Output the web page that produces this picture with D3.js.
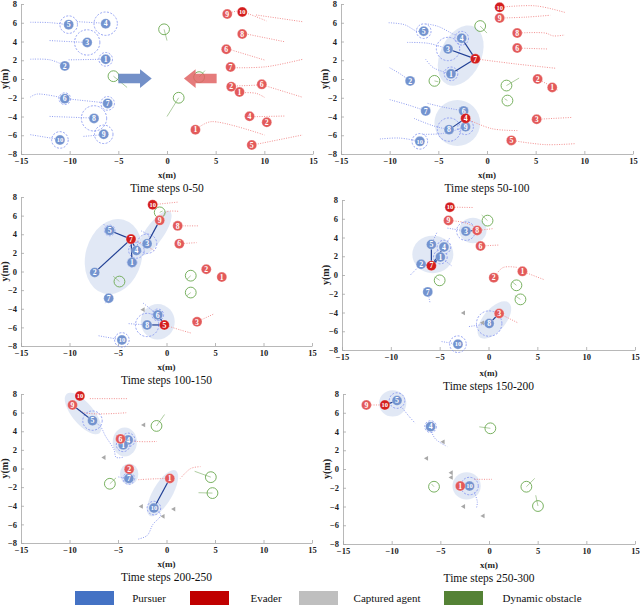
<!DOCTYPE html>
<html>
<head>
<meta charset="utf-8">
<script src="https://cdn.jsdelivr.net/npm/d3@7"></script>
<style>
  body { margin: 0; background: #fff; }
  svg { display: block; }
</style>
</head>
<body>
<div id="chart"></div>
<script>
// ---- data (x, y in metres) ----
const titles = ['Time steps 0-50', 'Time steps 50-100', 'Time steps 100-150',
                'Time steps 150-200', 'Time steps 200-250', 'Time steps 250-300'];
const xTicks = [-15, -10, -5, 0, 5, 10, 15];
const yTicks = [-8, -6, -4, -2, 0, 2, 4, 6, 8];

// pursuers per panel: [id, x, y, detection radius (0 = none)]
const pursuers = [
  [[1,-6.3,2.1,0.7],[2,-10.5,1.4,0],[3,-8.2,3.9,1.3],[4,-6.3,5.9,1.2],[5,-10.1,5.8,0.9],
   [6,-10.5,-2.1,0.6],[7,-6.1,-2.6,0.7],[8,-7.5,-4.2,1.3],[9,-6.5,-5.9,0.95],[10,-11.0,-6.5,0.85]],
  [[5,-6.5,5.1,0.75],[4,-2.6,4.35,0.7],[3,-4.0,3.2,1.2],[1,-3.7,0.55,0.7],[2,-7.9,-0.2,0],
   [7,-6.3,-3.4,0],[6,-2.4,-3.4,0],[8,-3.9,-5.4,1.2],[9,-2.2,-5.1,0.8],[10,-6.9,-6.65,0.8]],
  [[5,-5.86,4.41,0.55],[4,-3.1,2.26,0.8],[3,-2.0,2.98,1.0],[1,-3.55,0.97,0.5],[2,-7.4,-0.1,0],
   [7,-5.96,-2.87,0],[6,-0.9,-4.66,0.6],[8,-2.0,-5.74,1.2],[10,-4.6,-7.35,0.75]],
  [[3,-2.31,4.68,0.95],[5,-5.85,3.26,0],[4,-4.56,2.98,0.7],[1,-4.93,1.92,0.7],[2,-6.9,1.14,0],
   [7,-6.22,-1.8,0],[8,0.07,-5.18,1.3],[10,-3.13,-7.38,0.85]],
  [[5,-7.63,5.14,1.0],[4,-3.95,3.07,0.7],[1,-4.47,2.54,0.7],[7,-3.88,-1.07,0.6],[10,-1.3,-4.25,0.7]],
  [[5,-9.45,7.3,0.8],[4,-6.0,4.52,0.6],[10,-2.0,-1.82,0.9]]
];

// evaders per panel: [id, x, y, targeted (darker)]
const evaders = [
  [[9,6.19,6.93,0],[10,7.73,7.15,1],[8,7.73,4.8,0],[6,6.09,3.17,0],[7,6.53,1.28,0],[2,6.6,-0.82,0],
   [1,7.45,-1.39,0],[6,9.74,-0.57,0],[4,8.48,-3.98,0],[2,10.25,-4.62,0],[1,2.92,-5.41,0],[5,8.71,-7.04,0]],
  [[10,1.3,7.65,1],[9,1.3,6.5,0],[8,3.1,4.9,0],[6,3.1,3.3,0],[7,-1.2,2.15,1],[2,5.2,0.0,0],
   [1,6.7,-0.9,0],[3,5.1,-4.3,0],[4,-2.2,-4.2,1],[5,2.5,-6.55,0]],
  [[10,-1.43,7.17,1],[9,-0.7,5.49,0],[8,1.15,4.9,0],[6,1.32,2.98,0],[7,-3.66,3.48,1],[2,4.1,0.25,0],
   [1,5.7,-0.6,0],[3,3.15,-5.4,0],[5,-0.22,-5.74,1]],
  [[10,-3.95,7.24,1],[9,-4.1,5.82,0],[8,-1.16,4.75,0],[6,-0.82,3.09,0],[7,-5.85,0.99,1],
   [2,0.54,-0.28,0],[1,3.47,0.39,0],[3,1.09,-4.11,0]],
  [[10,-8.93,7.79,1],[9,-9.69,6.82,0],[6,-4.74,3.18,0],[2,-3.85,-0.07,0],[1,0.34,-1.07,0]],
  [[9,-12.6,6.83,0],[10,-10.7,6.83,1],[1,-2.95,-1.82,0]]
];

// capture links per panel: [pursuer id, evader id]
const links = [
  [],
  [[4,7],[3,7],[1,7],[8,4]],
  [[5,7],[2,7],[1,7],[4,7],[3,9],[6,5],[8,5]],
  [[5,7],[4,7],[1,7],[2,7],[3,8],[8,3]],
  [[5,9],[10,1]],
  [[5,10],[10,1]]
];

// coalition regions per panel: [cx, cy, rx, ry, angle deg]
const groups = [
  [],
  [[-2.7,2.5,2.1,3.4,25],[-3.05,-4.7,2.35,2.45,0]],
  [[-5.45,1.6,2.9,4.1,15],[-1.25,4.1,0.95,2.9,35],[-0.9,-5.4,1.75,1.9,0]],
  [[-5.7,2.2,2.1,2.0,0],[-1.6,4.75,1.4,1.35,0],[0.6,-4.8,1.15,2.4,40]],
  [[-8.6,5.9,1.1,2.75,-40],[-4.3,2.85,1.25,1.55,0],[-3.85,-0.6,0.95,1.15,0],[-0.4,-2.65,1.0,2.8,30]],
  [[-9.9,7.0,1.4,1.4,0],[-2.3,-1.8,1.45,1.45,0]]
];

// dynamic obstacles per panel: [x, y, tail x, tail y]
const obstacles = [
  [[-0.3,5.3,0.0,4.1],[-5.5,0.3,-4.1,-0.9],[1.2,-2.0,0.0,-4.0],[3.3,0.2,3.9,0.9]],
  [[-0.7,5.65,0.0,4.9],[-5.4,-0.2,-5.0,-0.3],[2.0,-0.7,3.3,0.1],[2.1,-2.3,1.8,-2.1]],
  [[-0.7,6.35,-0.4,6.5],[-4.85,-1.08,-5.5,-0.5],[2.5,-0.45,2.1,-0.85],[2.5,-2.26,2.1,-2.6]],
  [[-0.1,5.8,-0.7,6.4],[-5.0,-0.57,-5.5,-0.2],[2.86,-1.1,2.4,-0.7],[3.27,-2.6,2.7,-2.2]],
  [[-1.03,4.57,-0.2,5.8],[-5.84,-1.64,-5.2,-1.0],[4.57,-0.93,2.9,-0.3],[4.74,-2.64,3.3,-2.6]],
  [[0.14,4.34,-1.0,4.5],[-5.65,-1.89,-5.9,-1.6],[3.84,-1.89,4.7,-1.0],[5.03,-3.95,4.8,-2.8]]
];

// captured agents per panel: [x, y]
const captured = [
  [],
  [],
  [[-2.4,-4.1]],
  [[-2.55,-4.04],[-0.6,-5.1]],
  [[-2.34,4.68],[-6.43,1.18],[-2.58,-4.07],[0.76,-4.36],[-0.34,-5.14]],
  [[-4.7,2.9],[-6.4,1.14],[-3.87,-0.4],[-3.87,-0.9],[-2.6,-4.0],[-0.6,-5.0]]
];

// trajectories per panel
const pursuerTrails = [
  [[[-14.04,6.05],[-12.0,6.01],[-10.11,5.77]], [[-9.26,6.12],[-6.32,5.94]],
   [[-12.06,4.1],[-8.17,3.89]], [[-14.04,2.11],[-12.0,2.04],[-10.46,1.4]],
   [[-10.11,2.04],[-6.32,2.11]], [[-14.04,-1.93],[-13.36,-1.61],[-10.46,-2.07]],
   [[-9.94,-2.15],[-6.12,-2.57]], [[-12.06,-3.99],[-7.48,-4.17]],
   [[-8.58,-6.12],[-6.53,-5.94]], [[-14.04,-5.94],[-10.97,-6.47]]],
  [[[-10.1,6.0],[-8.5,5.8],[-7.2,5.1],[-6.5,5.1]], [[-6.3,5.9],[-5.0,5.6],[-3.5,4.8],[-2.6,4.35]],
   [[-8.2,3.9],[-6.0,3.8],[-4.0,3.2]], [[-6.3,2.1],[-5.5,1.2],[-3.7,0.55]],
   [[-10.0,1.2],[-9.0,0.6],[-7.9,-0.2]], [[-10.0,-2.2],[-8.0,-2.8],[-6.3,-3.4]],
   [[-6.1,-2.6],[-4.5,-3.0],[-2.4,-3.4]], [[-7.5,-4.2],[-5.5,-5.0],[-3.9,-5.4]],
   [[-6.5,-5.9],[-4.5,-5.8],[-2.2,-5.1]], [[-11.0,-6.4],[-9.0,-6.3],[-6.9,-6.65]]],
  [[[-7.0,-6.9],[-4.6,-7.35]], [[-3.9,-5.6],[-2.0,-5.74]], [[-7.9,-0.2],[-7.4,-0.1]],
   [[-6.3,-3.4],[-5.96,-2.87]], [[-2.6,4.35],[-1.8,3.8],[-2.0,2.98]], [[-2.4,-3.4],[-0.9,-4.66]],
   [[-6.5,5.1],[-5.86,4.41]], [[-3.7,0.55],[-3.55,0.97]]],
  [[[-4.8,-7.1],[-3.13,-7.38]], [[-2.0,-5.5],[0.07,-5.18]], [[-5.3,4.5],[-5.85,3.26]],
   [[-4.0,3.9],[-4.56,2.98]], [[-4.2,5.0],[-2.31,4.68]], [[-3.8,1.0],[-4.93,1.92]],
   [[-6.0,-2.9],[-6.22,-1.8]], [[-8.0,0.0],[-6.9,1.14]]],
  [[[-7.63,5.14],[-6.8,4.5],[-6.3,3.5],[-5.4,2.0],[-5.2,1.2],[-4.5,1.2]],
   [[-1.3,-4.25],[-0.6,-5.0],[-1.4,-6.0],[-2.0,-7.2],[-3.0,-7.6]], [[-3.88,-1.07],[-5.0,-0.9]]],
  [[[-8.9,6.5],[-8.2,5.6],[-7.6,4.9]], [[-6.0,4.2],[-5.5,3.2],[-4.3,2.4]],
   [[-1.5,-2.5],[-1.2,-3.5],[-1.3,-4.2]]]
];
const evaderTrails = [
  [[[6.19,6.93],[7.3,7.25],[8.5,6.9],[10.2,6.2]], [[9.15,6.83],[13.93,6.11]],
   [[8.3,4.77],[12.06,3.98]], [[6.6,3.1],[10.0,2.03]], [[6.94,1.2],[10.19,1.31],[13.93,2.1]],
   [[6.94,-0.75],[9.67,-0.64]], [[7.79,-1.46],[9.16,-1.53],[10.0,-1.95]],
   [[10.19,-0.75],[13.93,-1.95]], [[8.99,-4.02],[12.06,-3.95]],
   [[3.36,-5.09],[4.56,-4.55],[10.0,-5.97]], [[9.33,-6.93],[13.93,-5.97]]],
  [[[1.3,7.65],[5.0,7.8],[8.0,7.1]], [[1.3,6.5],[4.0,6.6],[6.5,6.8]],
   [[3.1,4.9],[6.0,4.9],[6.8,4.6],[8.0,4.7]], [[3.1,3.3],[6.3,3.2]],
   [[-1.2,2.15],[3.0,1.6],[7.0,1.15]], [[6.7,-0.9],[7.3,-1.2]], [[5.2,0.0],[6.3,-0.6]],
   [[5.1,-4.3],[8.7,-4.1]], [[-2.2,-4.2],[0.5,-5.3],[3.2,-5.5]], [[2.5,-6.55],[6.0,-7.0],[9.0,-6.9]]],
  [[[-1.43,7.17],[1.25,7.46]], [[-0.7,5.49],[0.0,6.4],[1.3,6.45]], [[1.15,4.9],[3.3,4.9]],
   [[1.32,2.98],[3.1,3.1]], [[-3.66,3.48],[-2.5,3.0],[-1.2,2.2]], [[3.15,-5.4],[4.9,-4.55]],
   [[-0.22,-5.74],[1.5,-6.3],[2.5,-6.6]]],
  [[[-3.95,7.24],[-1.6,7.2]], [[-4.1,5.82],[-2.5,5.6],[-1.1,5.0]], [[-1.16,4.75],[0.5,4.95]],
   [[-0.82,3.09],[1.1,3.2]], [[3.47,0.39],[5.7,-0.5]], [[0.54,-0.28],[1.5,0.8],[3.0,0.8]],
   [[1.09,-4.11],[3.0,-5.1]]],
  [[[-7.9,7.5],[-4.0,7.5]], [[-9.69,6.82],[-8.5,6.0],[-4.0,6.0]], [[-4.74,3.18],[-3.0,2.9],[-1.0,2.9]],
   [[-2.9,-1.2],[-1.0,-1.1],[0.34,-1.07]], [[1.4,-1.1],[2.5,0.0],[3.5,0.2]]],
  [[[-12.6,6.83],[-10.7,6.83]], [[-1.5,-1.1],[0.3,-1.1]]]
];

// motion arrows in the first panel: [x from, x to, y]
const arrowsX = [[-5.0, -1.57], [5.1, 1.74]];
const arrowY = 0.05;

const legendLabels = ['Pursuer', 'Evader', 'Captured agent', 'Dynamic obstacle'];
const legendColors = ['#4472c4', '#c00000', '#bfbfbf', '#548235'];

// ---- layout ----
const W = 640, H = 606;
const boxes = [
  {x0: 21, x1: 313, y0: 4, y1: 154},
  {x0: 341, x1: 633, y0: 4, y1: 154},
  {x0: 21, x1: 312, y0: 197, y1: 346},
  {x0: 342, x1: 635, y0: 200, y1: 350},
  {x0: 21, x1: 312, y0: 394, y1: 543},
  {x0: 343, x1: 635, y0: 394, y1: 544}
];
const serif = '"Liberation Serif", "Times New Roman", serif';

const svg = d3.select('#chart').append('svg')
  .attr('width', W).attr('height', H)
  .attr('viewBox', `0 0 ${W} ${H}`);

boxes.forEach((b, i) => {
  const x = d3.scaleLinear().domain([-15, 15]).range([b.x0, b.x1]);
  const y = d3.scaleLinear().domain([-8, 8]).range([b.y1, b.y0]);
  const g = svg.append('g');
  const line = d3.line().x(d => x(d[0])).y(d => y(d[1])).curve(d3.curveCatmullRom);

  // axes
  const xa = g.append('g').attr('transform', `translate(0,${b.y1})`)
    .call(d3.axisBottom(x).tickValues(xTicks).tickSizeInner(-3).tickSizeOuter(0).tickPadding(4));
  const ya = g.append('g').attr('transform', `translate(${b.x0},0)`)
    .call(d3.axisLeft(y).tickValues(yTicks).tickSizeInner(-3).tickSizeOuter(0).tickPadding(4));
  [xa, ya].forEach(a => {
    a.select('.domain').attr('stroke', '#a6a6a6').attr('stroke-width', 0.8);
    a.selectAll('.tick line').attr('stroke', '#a6a6a6').attr('stroke-width', 0.8);
    a.selectAll('.tick text').attr('font-family', serif).attr('font-weight', 'bold')
      .attr('font-size', 8.5).attr('fill', '#222');
  });

  const cx = (b.x0 + b.x1) / 2;
  const dy = i === 3 ? 2 : 0;
  g.append('text').attr('x', cx).attr('y', b.y1 + 24 + dy).attr('text-anchor', 'middle')
    .attr('font-family', serif).attr('font-weight', 'bold').attr('font-size', 9).attr('fill', '#222')
    .text('x(m)');
  g.append('text').attr('x', cx).attr('y', b.y1 + 38 + dy).attr('text-anchor', 'middle')
    .attr('font-family', serif).attr('font-size', 11.5).attr('fill', '#111')
    .text(titles[i]);
  g.append('text')
    .attr('transform', `translate(${b.x0 - 13},${(b.y0 + b.y1) / 2}) rotate(-90)`)
    .attr('text-anchor', 'middle')
    .attr('font-family', serif).attr('font-weight', 'bold').attr('font-size', 10).attr('fill', '#222')
    .text('y(m)');

  const kx = x(1) - x(0), ky = y(0) - y(1);

  // coalition regions
  g.selectAll('.grp').data(groups[i]).enter().append('ellipse')
    .attr('transform', d => `translate(${x(d[0])},${y(d[1])}) rotate(${d[4]})`)
    .attr('rx', d => d[2] * kx).attr('ry', d => d[3] * ky)
    .attr('fill', '#dce4f3').attr('opacity', 0.85);

  // trajectories
  g.selectAll('.pt').data(pursuerTrails[i]).enter().append('path')
    .attr('d', line).attr('fill', 'none').attr('stroke', '#8393ee')
    .attr('stroke-width', 0.9).attr('stroke-dasharray', '1,1.4');
  g.selectAll('.et').data(evaderTrails[i]).enter().append('path')
    .attr('d', line).attr('fill', 'none').attr('stroke', '#f08585')
    .attr('stroke-width', 0.9).attr('stroke-dasharray', '1,1.4');

  // detection ranges
  g.selectAll('.det').data(pursuers[i].filter(d => d[3] > 0)).enter().append('circle')
    .attr('cx', d => x(d[1])).attr('cy', d => y(d[2])).attr('r', d => d[3] * kx)
    .attr('fill', 'none').attr('stroke', '#7d8ff0').attr('stroke-width', 0.8)
    .attr('stroke-dasharray', '2,1.5');

  // obstacles
  g.selectAll('.obt').data(obstacles[i]).enter().append('line')
    .attr('x1', d => x(d[0])).attr('y1', d => y(d[1]))
    .attr('x2', d => x(d[2])).attr('y2', d => y(d[3]))
    .attr('stroke', '#8cb878').attr('stroke-width', 0.7);
  g.selectAll('.ob').data(obstacles[i]).enter().append('circle')
    .attr('cx', d => x(d[0])).attr('cy', d => y(d[1])).attr('r', 5.4)
    .attr('fill', 'none').attr('stroke', '#6aa84f').attr('stroke-width', 0.9);

  // first panel arrows, drawn over the obstacles
  if (i === 0) {
    const colors = ['#5a7dbe', '#e06464'];
    arrowsX.forEach((a, k) => {
      const dir = Math.sign(a[1] - a[0]);
      const headLen = 1.2 * dir;
      const pts = [
        [a[0], arrowY + 0.5], [a[1] - headLen, arrowY + 0.5], [a[1] - headLen, arrowY + 1.0],
        [a[1], arrowY], [a[1] - headLen, arrowY - 1.0], [a[1] - headLen, arrowY - 0.5],
        [a[0], arrowY - 0.5]
      ];
      g.append('path')
        .attr('d', 'M' + pts.map(p => `${x(p[0])},${y(p[1])}`).join('L') + 'Z')
        .attr('fill', colors[k]).attr('opacity', 0.85);
    });
  }

  // captured agents
  const tri = d3.symbol().type(d3.symbolTriangle).size(10);
  g.selectAll('.cap').data(captured[i]).enter().append('path')
    .attr('d', tri).attr('transform', d => `translate(${x(d[0])},${y(d[1])}) rotate(-90)`)
    .attr('fill', '#a8a8a8');

  // capture links
  const pById = new Map(pursuers[i].map(d => [d[0], d]));
  const eById = new Map(evaders[i].map(d => [d[0], d]));
  g.selectAll('.lk').data(links[i]).enter().append('line')
    .attr('x1', d => x(pById.get(d[0])[1])).attr('y1', d => y(pById.get(d[0])[2]))
    .attr('x2', d => x(eById.get(d[1])[1])).attr('y2', d => y(eById.get(d[1])[2]))
    .attr('stroke', '#203f94').attr('stroke-width', 1.2);

  // agents
  const drawAgents = (data, fill) => {
    const a = g.selectAll(null).data(data).enter().append('g')
      .attr('transform', d => `translate(${x(d[1])},${y(d[2])})`);
    a.append('circle').attr('r', 5).attr('fill', fill)
      .attr('stroke', '#ffffff').attr('stroke-opacity', 0.5).attr('stroke-width', 0.6);
    a.append('text').attr('text-anchor', 'middle').attr('dy', '0.35em')
      .attr('font-family', serif).attr('font-weight', 'bold')
      .attr('font-size', d => d[0] >= 10 ? 6.5 : 7.8).attr('fill', '#fff')
      .text(d => d[0]);
  };
  drawAgents(pursuers[i], '#7393cf');
  drawAgents(evaders[i], d => d[3] ? '#d41e1e' : '#e35a5a');
});

// legend
const legX = [75, 190, 299, 444];
const legTextX = [149, 266, 387, 542];
legendLabels.forEach((lab, k) => {
  svg.append('rect').attr('x', legX[k]).attr('y', 591).attr('width', 39).attr('height', 14)
    .attr('fill', legendColors[k]);
  svg.append('text').attr('x', legTextX[k]).attr('y', 602).attr('text-anchor', 'middle')
    .attr('font-family', serif).attr('font-size', 11).attr('fill', '#111').text(lab);
});
</script>
</body>
</html>
